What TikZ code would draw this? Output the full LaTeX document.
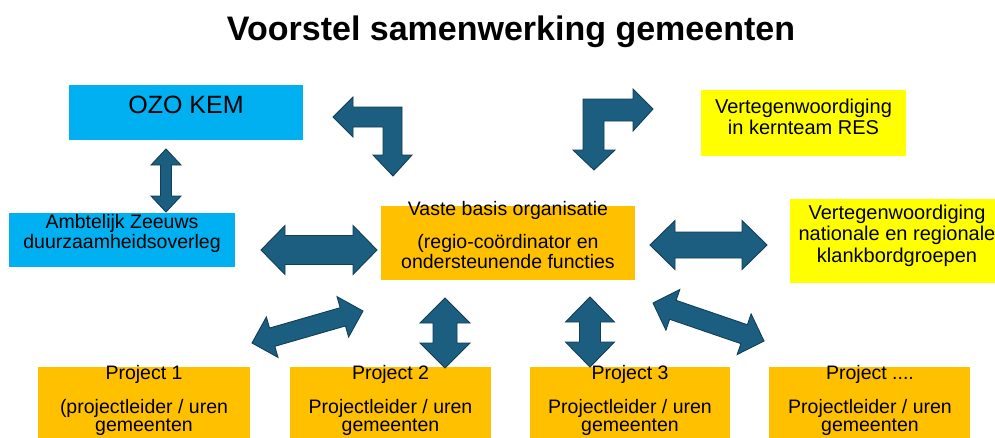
\documentclass[tikz,border=0pt]{standalone}
\usepackage{fontspec}
\setmainfont{Liberation Sans}
\usetikzlibrary{calc}
\definecolor{cyanbox}{HTML}{00B0F0}
\definecolor{orangebox}{HTML}{FFC000}
\definecolor{yellowbox}{HTML}{FFFF00}
\definecolor{arrowfill}{HTML}{1B5E80}
\definecolor{arrowline}{HTML}{113F58}
\tikzset{
  box/.style={draw=none, inner sep=0pt, outer sep=0pt, anchor=north west},
  txt/.style={inner sep=0pt, outer sep=0pt, align=center, anchor=base, text=black},
  blockarrow/.style={fill=arrowfill, draw=arrowline, line width=0.9pt, line join=miter},
}
\newcommand\fatarrow[5]{%
  \draw[blockarrow] (#1) -- ($(#1)!#3!(#2)!#4!90:(#2)$) -- ($(#1)!#3!(#2)!#5!90:(#2)$)
   -- ($(#2)!#3!(#1)!#5!-90:(#1)$) -- ($(#2)!#3!(#1)!#4!-90:(#1)$) -- (#2)
   -- ($(#2)!#3!(#1)!#4!90:(#1)$) -- ($(#2)!#3!(#1)!#5!90:(#1)$)
   -- ($(#1)!#3!(#2)!#5!-90:(#2)$) -- ($(#1)!#3!(#2)!#4!-90:(#2)$) -- cycle;}
\begin{document}
\begin{tikzpicture}[x=1pt, y=-1pt]
\useasboundingbox (0,0) rectangle (995,437);
\fill[white] (0,0) rectangle (995,437);

% title
\node[txt, font=\bfseries\fontsize{34pt}{40pt}\selectfont] (title) at (511,40) {Voorstel samenwerking gemeenten};

% boxes
\node[box, fill=cyanbox, minimum width=234pt, minimum height=55pt] (ozo) at (69,85) {};
\node[box, fill=cyanbox, minimum width=226pt, minimum height=54pt] (amb) at (9,213) {};
\node[box, fill=orangebox, minimum width=254pt, minimum height=74pt] (vaste) at (381,206) {};
\node[box, fill=yellowbox, minimum width=205pt, minimum height=66pt] (kern) at (701,90) {};
\node[box, fill=yellowbox, minimum width=205pt, minimum height=84pt] (nat) at (790,199) {};
\node[box, fill=orangebox, minimum width=212pt, minimum height=72pt] (p1) at (38,367) {};
\node[box, fill=orangebox, minimum width=201pt, minimum height=72pt] (p2) at (290,367) {};
\node[box, fill=orangebox, minimum width=200pt, minimum height=72pt] (p3) at (530,367) {};
\node[box, fill=orangebox, minimum width=201pt, minimum height=72pt] (p4) at (769,367) {};

% texts (base anchor = baseline of the last line)
\node[txt, font=\fontsize{25pt}{28pt}\selectfont] (ozot) at (186,113) {OZO KEM};
\node[txt, font=\fontsize{19.5pt}{18pt}\selectfont] (ambt) at (122,248) {Ambtelijk Zeeuws\\duurzaamheidsoverleg};
\node[txt, font=\fontsize{19.5pt}{16pt}\selectfont] (vastet) at (508,268) {Vaste basis organisatie\\[14pt](regio-coördinator en\\ondersteunende functies};
\node[txt, font=\fontsize{20pt}{21pt}\selectfont] (kernt) at (803.5,134) {Vertegenwoordiging\\in kernteam RES};
\node[txt, font=\fontsize{20pt}{21.5pt}\selectfont] (natt) at (897,262) {Vertegenwoordiging\\nationale en regionale\\klankbordgroepen};
\node[txt, font=\fontsize{19.5pt}{16pt}\selectfont] (p1t) at (144,431) {Project 1\\[15pt](projectleider / uren\\gemeenten};
\node[txt, font=\fontsize{19.5pt}{16pt}\selectfont] (p2t) at (390.5,431) {Project 2\\[15pt]Projectleider / uren\\gemeenten};
\node[txt, font=\fontsize{19.5pt}{16pt}\selectfont] (p3t) at (630,431) {Project 3\\[15pt]Projectleider / uren\\gemeenten};
\node[txt, font=\fontsize{19.5pt}{16pt}\selectfont] (p4t) at (870,431) {Project ....\\[15pt]Projectleider / uren\\gemeenten};

% arrow end points
\coordinate (a1s) at (166,149);  \coordinate (a1e) at (166,212);
\coordinate (a2s) at (261,250);  \coordinate (a2e) at (377,250);
\coordinate (a3s) at (650,245);  \coordinate (a3e) at (767,245);
\coordinate (a4s) at (252,343);  \coordinate (a4e) at (363,311);
\coordinate (a5s) at (445,298);  \coordinate (a5e) at (445,368);
\coordinate (a6s) at (590,297);  \coordinate (a6e) at (590,367);
\coordinate (a7s) at (653,303);  \coordinate (a7e) at (764,341);

\fatarrow{a1s}{a1e}{16pt}{15pt}{5.5pt}
\fatarrow{a2s}{a2e}{24pt}{24.5pt}{14.5pt}
\fatarrow{a3s}{a3e}{25pt}{24.5pt}{13pt}
\fatarrow{a4s}{a4e}{21pt}{21pt}{9.5pt}
\fatarrow{a5s}{a5e}{25pt}{25pt}{12pt}
\fatarrow{a6s}{a6e}{25pt}{24.5pt}{10.5pt}
\fatarrow{a7s}{a7e}{21pt}{21.5pt}{10pt}

% bent arrows
\draw[blockarrow] (333,117) -- (353,97) -- (353,107) -- (402,107) -- (402,155) -- (412,155)
  -- (393,176) -- (373,155) -- (383,155) -- (383,127) -- (353,127) -- (353,137) -- cycle;
\draw[blockarrow] (653,109) -- (633,131) -- (633,121) -- (604,121) -- (604,150) -- (615,150)
  -- (594,170) -- (573,150) -- (583,150) -- (583,99) -- (633,99) -- (633,89) -- cycle;
\end{tikzpicture}
\end{document}
